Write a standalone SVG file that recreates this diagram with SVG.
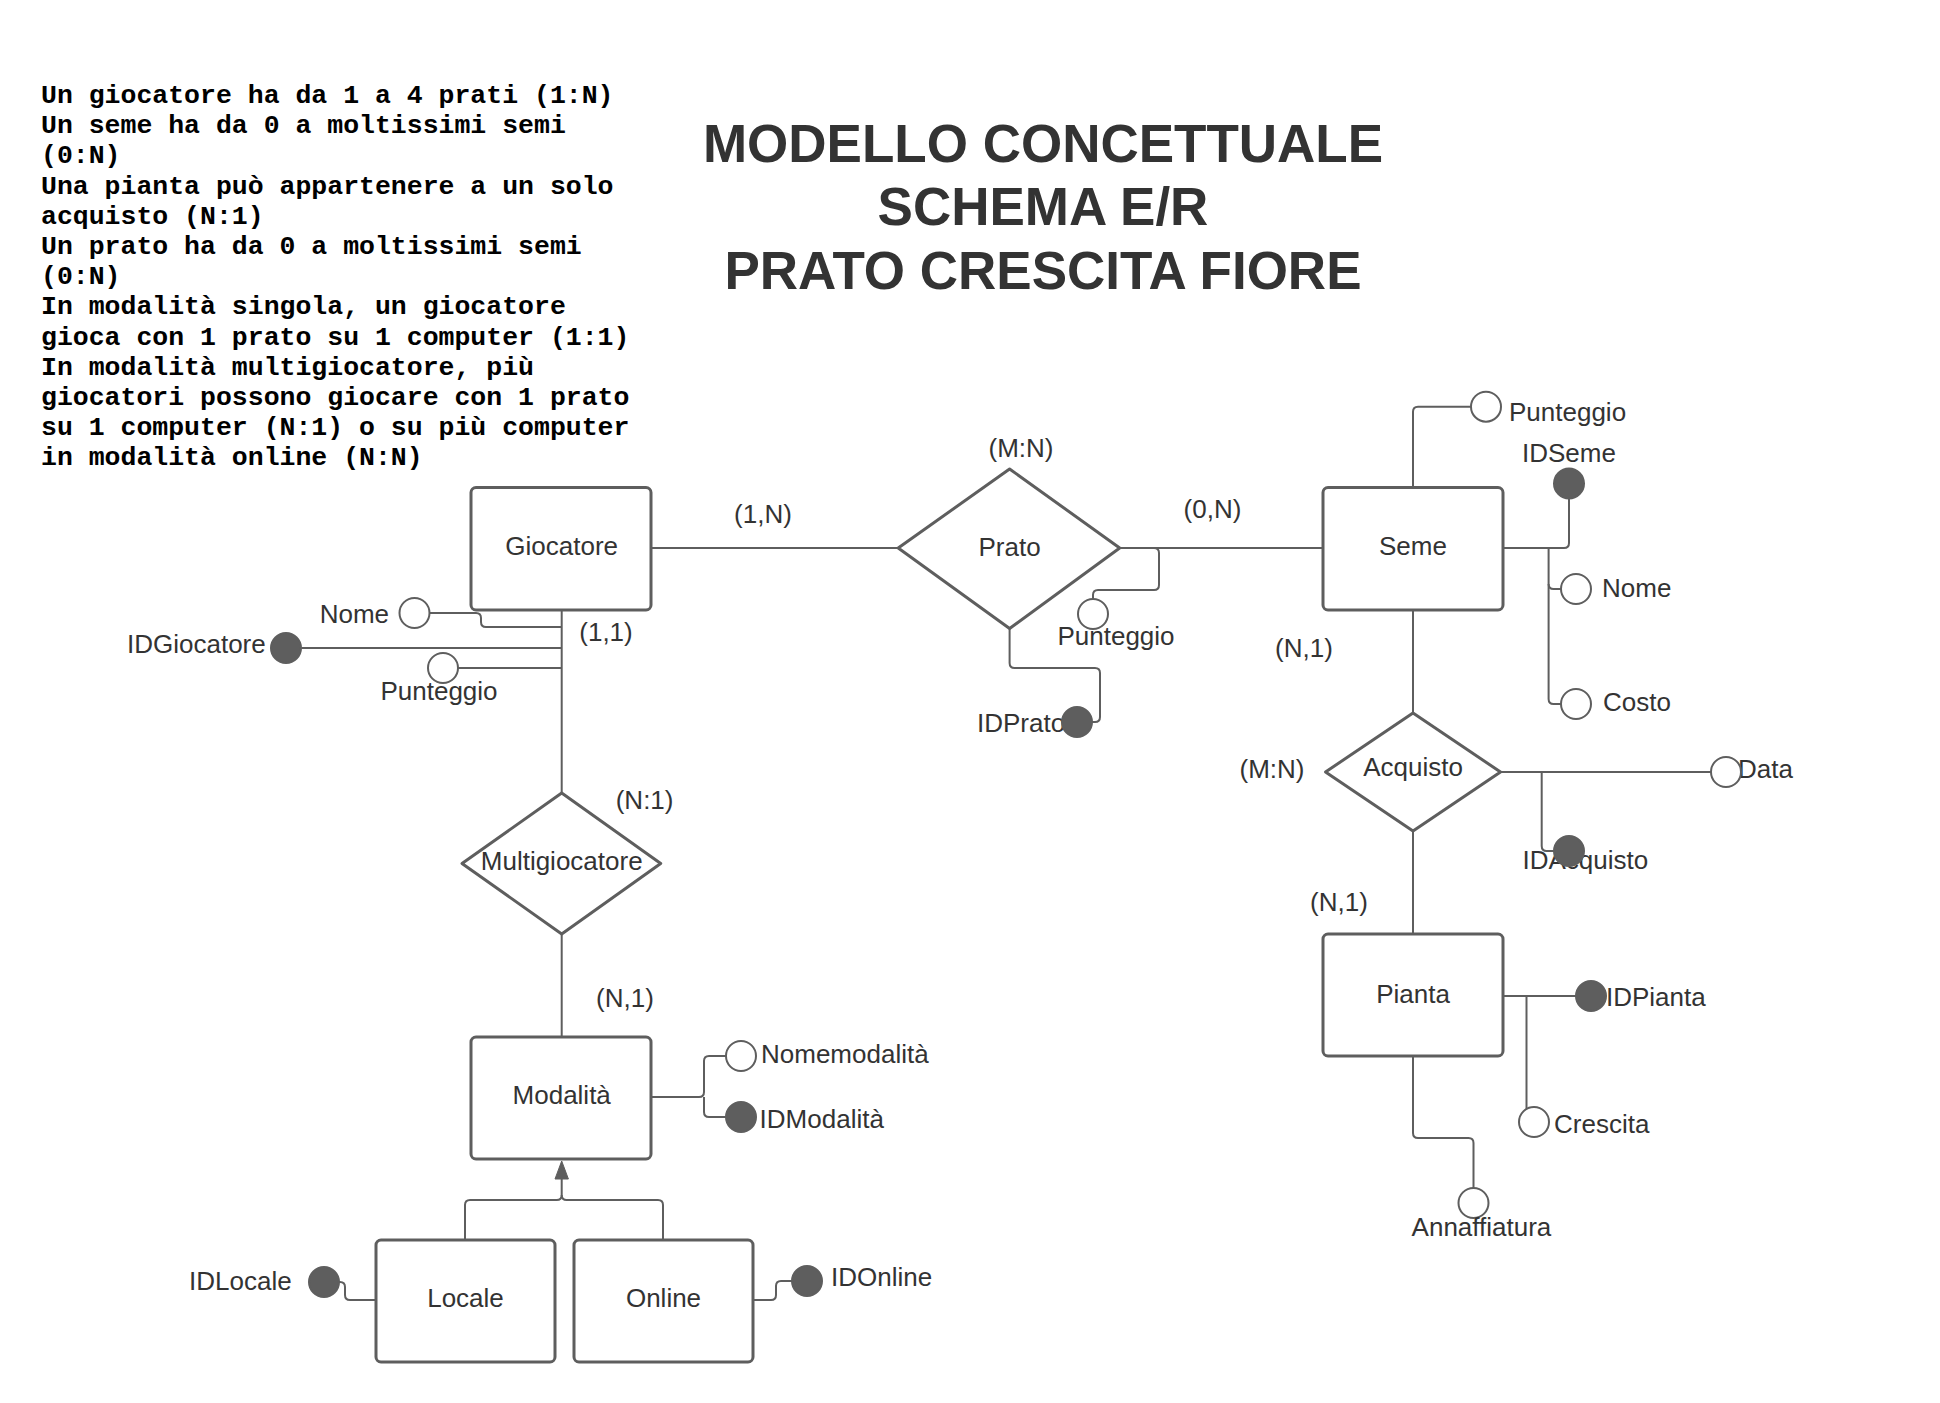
<svg xmlns="http://www.w3.org/2000/svg" width="1940" height="1403" viewBox="0 0 1940 1403">
<style>
.ent{fill:#fff;stroke:#5e5e5e;stroke-width:3}
.rel{fill:#fff;stroke:#5e5e5e;stroke-width:3;stroke-linejoin:round}
.conn{fill:none;stroke:#5e5e5e;stroke-width:2;stroke-linejoin:round}
.attr{fill:#fff;stroke:#5e5e5e;stroke-width:2}
.key{fill:#5e5e5e;stroke:#5e5e5e;stroke-width:2}
.lbl{font-family:"Liberation Sans",Arial,sans-serif;font-size:26px;fill:#333}
.c{text-anchor:middle}
.e{text-anchor:end}
.title{font-family:"Liberation Sans",Arial,sans-serif;font-weight:bold;font-size:53px;fill:#333;text-anchor:middle}
.note{font-family:"Liberation Mono","Courier New",monospace;font-weight:bold;font-size:26.5px;fill:#000}
</style>
<rect width="1940" height="1403" fill="#fff"/>
<g id="notes">
<text class="note" x="41" y="103">Un giocatore ha da 1 a 4 prati (1:N)</text>
<text class="note" x="41" y="133.2">Un seme ha da 0 a moltissimi semi</text>
<text class="note" x="41" y="163.4">(0:N)</text>
<text class="note" x="41" y="193.6">Una pianta può appartenere a un solo</text>
<text class="note" x="41" y="223.8">acquisto (N:1)</text>
<text class="note" x="41" y="254">Un prato ha da 0 a moltissimi semi</text>
<text class="note" x="41" y="284.2">(0:N)</text>
<text class="note" x="41" y="314.4">In modalità singola, un giocatore</text>
<text class="note" x="41" y="344.6">gioca con 1 prato su 1 computer (1:1)</text>
<text class="note" x="41" y="374.8">In modalità multigiocatore, più</text>
<text class="note" x="41" y="405">giocatori possono giocare con 1 prato</text>
<text class="note" x="41" y="435.2">su 1 computer (N:1) o su più computer</text>
<text class="note" x="41" y="465.4">in modalità online (N:N)</text>
</g>
<g id="title">
<text class="title" x="1043" y="162">MODELLO CONCETTUALE</text>
<text class="title" x="1043" y="225">SCHEMA E/R</text>
<text class="title" x="1043" y="289">PRATO CRESCITA FIORE</text>
</g>
<g id="connectors">
<path class="conn" d="M651,548 H898"/>
<path class="conn" d="M1120,548 H1323"/>
<path class="conn" d="M1120,548 H1154 Q1159,548 1159,553 V585 Q1159,590 1154,590 H1098 Q1093,590 1093,595 V599"/>
<path class="conn" d="M1009.6,628.5 V663 Q1009.6,668 1014.6,668 H1095 Q1100,668 1100,673 V717 Q1100,722 1095,722 H1092"/>
<path class="conn" d="M561.7,610 V793"/>
<path class="conn" d="M429.5,613 H476 Q481,613 481,618 V622 Q481,627 486,627 H561.7"/>
<path class="conn" d="M301.5,648 H561.7"/>
<path class="conn" d="M458,668 H561.7"/>
<path class="conn" d="M561.7,934 V1037"/>
<path class="conn" d="M651,1097 H699 Q704,1097 704,1092 V1061 Q704,1056 709,1056 H726"/>
<path class="conn" d="M704,1097 V1112 Q704,1117 709,1117 H726"/>
<path class="conn" d="M465,1240 V1205 Q465,1200 470,1200 H556.7 Q561.7,1200 561.7,1195 V1178"/>
<path class="conn" d="M663,1240 V1205 Q663,1200 658,1200 H566.7 Q561.7,1200 561.7,1195"/>
<polygon points="561.7,1161 555,1179 568.4,1179" fill="#5e5e5e" stroke="#5e5e5e" stroke-width="1" stroke-linejoin="round"/>
<path class="conn" d="M376,1300 H350 Q345,1300 345,1295 V1287 Q345,1282 340,1282 H339"/>
<path class="conn" d="M753.5,1300 H771 Q776,1300 776,1295 V1286 Q776,1281 781,1281 H792"/>
<path class="conn" d="M1413,610 V713"/>
<path class="conn" d="M1413,831 V934"/>
<path class="conn" d="M1413,487.5 V411.7 Q1413,406.7 1418,406.7 H1471"/>
<path class="conn" d="M1503,548 H1564 Q1569,548 1569,543 V499"/>
<path class="conn" d="M1548.6,548 V699 Q1548.6,704 1553.6,704 H1561"/>
<path class="conn" d="M1548.6,584 Q1548.6,589 1553.6,589 H1561"/>
<path class="conn" d="M1500.5,772 H1711"/>
<path class="conn" d="M1541.7,772 V846 Q1541.7,851 1546.7,851 H1554"/>
<path class="conn" d="M1502,996 H1576"/>
<path class="conn" d="M1526.5,996 V1109"/>
<path class="conn" d="M1413,1056 V1133 Q1413,1138 1418,1138 H1468.5 Q1473.5,1138 1473.5,1143 V1188"/>
</g>
<g id="cardinalities">
<text class="lbl c" x="763" y="523">(1,N)</text>
<text class="lbl c" x="1021" y="457">(M:N)</text>
<text class="lbl c" x="1212.5" y="518">(0,N)</text>
<text class="lbl c" x="606" y="641">(1,1)</text>
<text class="lbl c" x="1304" y="657">(N,1)</text>
<text class="lbl c" x="644.6" y="809">(N:1)</text>
<text class="lbl c" x="625" y="1007">(N,1)</text>
<text class="lbl c" x="1272" y="778">(M:N)</text>
<text class="lbl c" x="1339" y="911">(N,1)</text>
</g>
<g id="giocatore">
<rect class="ent" x="471" y="487.5" width="180" height="122.5" rx="5"/>
<text class="lbl c" x="561.7" y="555">Giocatore</text>
</g>
<g id="seme">
<rect class="ent" x="1323" y="487.5" width="180" height="122.5" rx="5"/>
<text class="lbl c" x="1413" y="555">Seme</text>
</g>
<g id="pianta">
<rect class="ent" x="1323" y="934" width="180" height="122" rx="5"/>
<text class="lbl c" x="1413" y="1003">Pianta</text>
</g>
<g id="modalita">
<rect class="ent" x="471" y="1037" width="180" height="122" rx="5"/>
<text class="lbl c" x="561.7" y="1104">Modalità</text>
</g>
<g id="locale">
<rect class="ent" x="376" y="1240" width="179" height="122" rx="5"/>
<text class="lbl c" x="465.5" y="1307">Locale</text>
</g>
<g id="online">
<rect class="ent" x="574" y="1240" width="179" height="122" rx="5"/>
<text class="lbl c" x="663.5" y="1307">Online</text>
</g>
<g id="prato">
<polygon class="rel" points="1009.6,469 1119.7,548 1009.6,628.5 898.2,548"/>
<text class="lbl c" x="1009.6" y="556">Prato</text>
</g>
<g id="acquisto">
<polygon class="rel" points="1413,713 1500.5,772 1413,831 1325.5,772"/>
<text class="lbl c" x="1413" y="776">Acquisto</text>
</g>
<g id="multigiocatore">
<polygon class="rel" points="561.7,793 660.7,863.5 561.7,934 462,863.5"/>
<text class="lbl c" x="561.7" y="870">Multigiocatore</text>
</g>
<g id="attr-nome-giocatore">
<circle class="attr" cx="414.5" cy="613" r="15"/>
<text class="lbl e" x="389" y="623">Nome</text>
</g>
<g id="attr-idgiocatore">
<text class="lbl" x="127" y="653">IDGiocatore</text>
<circle class="key" cx="286" cy="648" r="15"/>
</g>
<g id="attr-punteggio-giocatore">
<circle class="attr" cx="443" cy="668" r="15"/>
<text class="lbl c" x="439" y="700">Punteggio</text>
</g>
<g id="attr-punteggio-prato">
<circle class="attr" cx="1093" cy="614" r="15"/>
<text class="lbl c" x="1116" y="645">Punteggio</text>
</g>
<g id="attr-idprato">
<text class="lbl" x="977" y="732">IDPrato</text>
<circle class="key" cx="1077" cy="722" r="15"/>
</g>
<g id="attr-punteggio-seme">
<circle class="attr" cx="1486" cy="406.7" r="15"/>
<text class="lbl" x="1509" y="421">Punteggio</text>
</g>
<g id="attr-idseme">
<text class="lbl" x="1522" y="461.5">IDSeme</text>
<circle class="key" cx="1569" cy="483.5" r="15"/>
</g>
<g id="attr-nome-seme">
<circle class="attr" cx="1576" cy="589" r="15"/>
<text class="lbl" x="1602" y="596.5">Nome</text>
</g>
<g id="attr-costo">
<circle class="attr" cx="1576" cy="704" r="15"/>
<text class="lbl" x="1603" y="711">Costo</text>
</g>
<g id="attr-data">
<text class="lbl" x="1738" y="778">Data</text>
<circle class="attr" cx="1726" cy="772" r="15"/>
</g>
<g id="attr-idacquisto">
<text class="lbl" x="1522.5" y="869">IDAcquisto</text>
<circle class="key" cx="1569" cy="851" r="15"/>
</g>
<g id="attr-idpianta">
<circle class="key" cx="1591" cy="996" r="15"/>
<text class="lbl" x="1606" y="1006">IDPianta</text>
</g>
<g id="attr-crescita">
<circle class="attr" cx="1534" cy="1122" r="15"/>
<text class="lbl" x="1554" y="1133">Crescita</text>
</g>
<g id="attr-annaffiatura">
<circle class="attr" cx="1473.5" cy="1203" r="15"/>
<text class="lbl" x="1411.6" y="1236">Annaffiatura</text>
</g>
<g id="attr-nomemodalita">
<circle class="attr" cx="741" cy="1056" r="15"/>
<text class="lbl" x="761" y="1063">Nomemodalità</text>
</g>
<g id="attr-idmodalita">
<circle class="key" cx="741" cy="1117" r="15"/>
<text class="lbl" x="759.6" y="1128">IDModalità</text>
</g>
<g id="attr-idlocale">
<circle class="key" cx="324" cy="1282" r="15"/>
<text class="lbl" x="189" y="1290">IDLocale</text>
</g>
<g id="attr-idonline">
<circle class="key" cx="807" cy="1281" r="15"/>
<text class="lbl" x="831" y="1285.5">IDOnline</text>
</g>
</svg>
